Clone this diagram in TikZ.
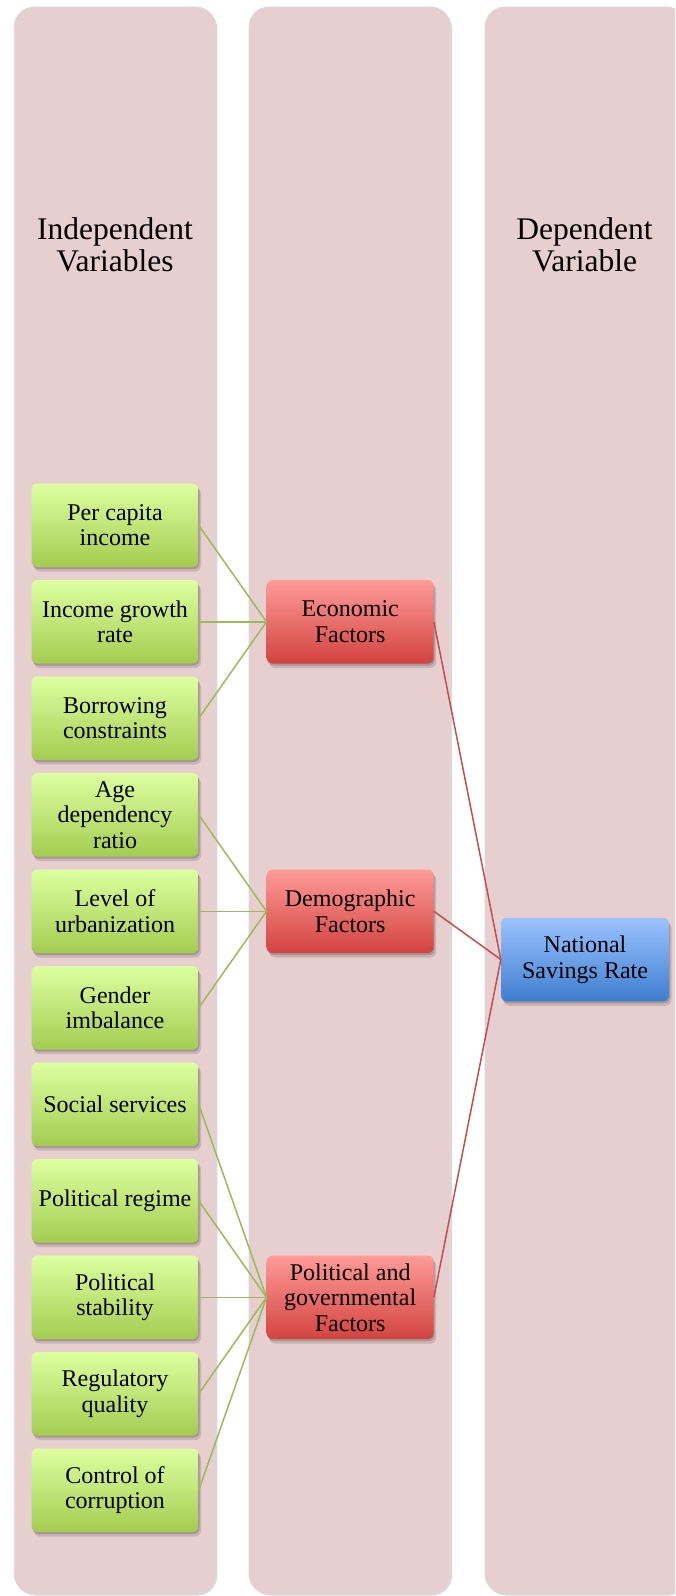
\documentclass[tikz,border=0pt]{standalone}
\usepackage{fontspec}
\setmainfont{Liberation Serif}
\usetikzlibrary{shadows}
\definecolor{colfill}{HTML}{E7CFD0}
\definecolor{greentop}{HTML}{DDFFA0}
\definecolor{greenbot}{HTML}{A4CC50}
\definecolor{redtop}{HTML}{FF9B98}
\definecolor{redbot}{HTML}{D2433F}
\definecolor{bluetop}{HTML}{9CC3FF}
\definecolor{bluebot}{HTML}{3E7ED0}
\definecolor{greenline}{HTML}{9BBB59}
\definecolor{redline}{HTML}{C0504D}
\tikzset{
  column/.style={fill=colfill, draw=black!15, line width=0.8pt, rounded corners=20pt,
    drop shadow={shadow xshift=1.5pt, shadow yshift=-1.5pt, fill=black!30, opacity=0.5}},
  header/.style={align=center, font=\fontsize{31.5}{32}\selectfont, inner sep=0pt},
  box/.style={rounded corners=6pt, minimum width=167pt, minimum height=83.5pt,
    align=center, inner sep=2pt, font=\fontsize{24}{25.5}\selectfont,
    drop shadow={shadow xshift=1pt, shadow yshift=-2pt, fill=black, opacity=0.16},
    drop shadow={shadow xshift=2.5pt, shadow yshift=-4.5pt, fill=black, opacity=0.13}},
  varbox/.style={box, top color=greentop, bottom color=greenbot},
  factorbox/.style={box, top color=redtop, bottom color=redbot},
  outbox/.style={box, minimum width=168pt, top color=bluetop, bottom color=bluebot},
  glink/.style={draw=greenline, line width=1.5pt},
  rlink/.style={draw=redline, line width=1.5pt},
}
\begin{document}
\begin{tikzpicture}[x=1pt, y=-1pt]
\useasboundingbox (0,0) rectangle (675,1596);
\clip (0,0) rectangle (675,1596);

% three column panels
\path[column] (14.3,7) rectangle (215.8,1594);
\path[column] (249,7) rectangle (450.5,1594);
\path[column] (485,7) rectangle (686.5,1594);

% column headings
\node[header] (hind) at (115,245) {Independent\\Variables};
\node[header] (hdep) at (584.5,245) {Dependent\\Variable};

% independent variables
\node[varbox] (v1)  at (115,525.3)  {Per capita\\income};
\node[varbox] (v2)  at (115,621.8)  {Income growth\\rate};
\node[varbox] (v3)  at (115,718.3)  {Borrowing\\constraints};
\node[varbox] (v4)  at (115,814.8)  {Age\\dependency\\ratio};
\node[varbox] (v5)  at (115,911.3)  {Level of\\urbanization};
\node[varbox] (v6)  at (115,1007.8) {Gender\\imbalance};
\node[varbox] (v7)  at (115,1104.3) {Social services};
\node[varbox] (v8)  at (115,1200.8) {Political regime};
\node[varbox] (v9)  at (115,1297.3) {Political\\stability};
\node[varbox] (v10) at (115,1393.8) {Regulatory\\quality};
\node[varbox] (v11) at (115,1490.3) {Control of\\corruption};

% factor groups
\node[factorbox] (econ) at (350.2,621.8)  {Economic\\Factors};
\node[factorbox] (demo) at (350.2,911.3)  {Demographic\\Factors};
\node[factorbox] (poli) at (350.2,1297.3) {Political and\\governmental\\Factors};

% dependent variable
\node[outbox] (nsr) at (585,959.5) {National\\Savings Rate};

% variable -> factor links
\foreach \v in {v1,v2,v3} \draw[glink] (\v.east) -- (econ.west);
\foreach \v in {v4,v5,v6} \draw[glink] (\v.east) -- (demo.west);
\foreach \v in {v7,v8,v9,v10,v11} \draw[glink] (\v.east) -- (poli.west);

% factor -> outcome links
\foreach \f in {econ,demo,poli} \draw[rlink] (\f.east) -- (nsr.west);
\end{tikzpicture}
\end{document}
